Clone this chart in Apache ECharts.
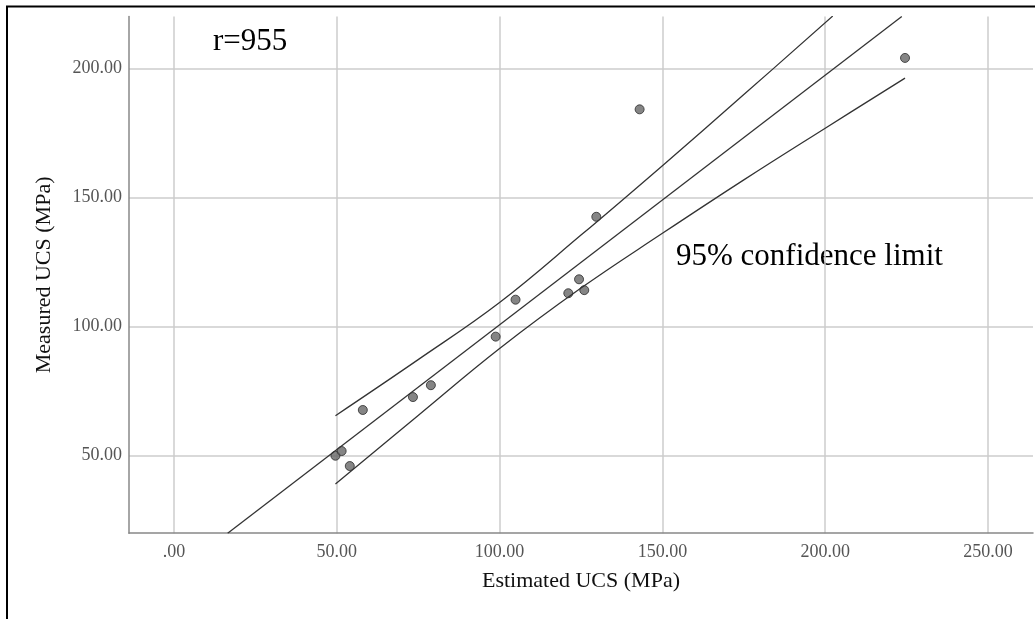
<!DOCTYPE html>
<html>
<head>
<meta charset="utf-8">
<style>
  html, body { margin: 0; padding: 0; background: #fff; }
  #chart { width: 1035px; height: 619px; }
</style>
<script src="https://cdn.jsdelivr.net/npm/echarts@6/dist/echarts.min.js"></script>
</head>
<body>
<div id="chart"></div>
<script>
// measured points: [estimated UCS, measured UCS]
const estimated = [49.6, 51.5, 54.0, 58.0, 73.4, 78.9, 98.8, 104.9, 121.1, 124.4, 126.0, 129.7, 143.0, 224.5];
const measured  = [50.0, 51.8, 46.0, 67.7, 72.7, 77.3, 96.1, 110.4, 112.9, 118.3, 114.1, 142.5, 184.1, 204.0];

// fit line (clipped by the plot frame)
const fitX = [16.5, 223.5];
const fitY = [20.0, 220.0];

// 95% confidence limit curves
const upperX = [49.6, 75, 100, 125, 150, 175, 202.3];
const upperY = [65.5, 87.2, 109.3, 135.4, 162.3, 189.8, 220.2];
const lowerX = [49.6, 75, 100, 125, 150, 175, 200, 224.5];
const lowerY = [39.0, 65.6, 91.5, 114.9, 136.1, 156.8, 176.8, 196.2];

const xTicks = [0, 50, 100, 150, 200, 250];
const yTicks = [50, 100, 150, 200];

const zip = (a, b) => a.map((v, i) => [v, b[i]]);
const fmt = v => (v === 0 ? '.00' : v.toFixed(2));
const serif = '"Liberation Serif", "Times New Roman", serif';

let chart = echarts.init(document.getElementById('chart'));

chart.setOption({
    animation: false,
    grid: { left: 129, right: 2, top: 16.6, bottom: 85.8 },
    xAxis: {
        type: 'value',
        min: -13.8,
        max: 263.8,
        minInterval: 50,
        maxInterval: 50,
        name: 'Estimated UCS (MPa)',
        nameLocation: 'middle',
        nameGap: 37,
        nameTextStyle: { fontFamily: serif, fontSize: 22, color: '#111' },
        axisLine: { onZero: false, lineStyle: { color: '#888', width: 1.5 } },
        axisTick: { show: false },
        axisLabel: {
            margin: 10,
            showMinLabel: false,
            showMaxLabel: false,
            fontFamily: serif, fontSize: 18, color: '#555',
            formatter: v => (xTicks.includes(v) ? fmt(v) : '')
        },
        splitLine: { show: true, showMinLine: false, showMaxLine: false, lineStyle: { color: '#cccccc', width: 1.5 } }
    },
    yAxis: {
        type: 'value',
        min: 20,
        max: 220,
        minInterval: 50,
        maxInterval: 50,
        name: 'Measured UCS (MPa)',
        nameLocation: 'middle',
        nameGap: 74,
        nameTextStyle: { fontFamily: serif, fontSize: 22, color: '#111' },
        axisLine: { show: true, onZero: false, lineStyle: { color: '#888', width: 1.5 } },
        axisTick: { show: false },
        axisLabel: {
            margin: 7,
            showMinLabel: false,
            showMaxLabel: false,
            fontFamily: serif, fontSize: 18, color: '#555',
            formatter: v => (yTicks.includes(v) ? fmt(v) : '')
        },
        splitLine: { show: true, showMinLine: false, showMaxLine: false, lineStyle: { color: '#cccccc', width: 1.5 } }
    },
    series: [
        {
            type: 'line', data: zip(fitX, fitY), symbol: 'none', clip: true,
            lineStyle: { color: '#333', width: 1.3 }
        },
        {
            type: 'line', data: zip(upperX, upperY), symbol: 'none', smooth: 0.4, clip: true,
            lineStyle: { color: '#333', width: 1.3 }
        },
        {
            type: 'line', data: zip(lowerX, lowerY), symbol: 'none', smooth: 0.4, clip: true,
            lineStyle: { color: '#333', width: 1.3 }
        },
        {
            type: 'scatter', data: zip(estimated, measured), symbolSize: 9,
            itemStyle: { color: '#666', borderColor: '#2a2a2a', borderWidth: 1 }
        }
    ],
    graphic: [
        { type: 'line', shape: { x1: 6, y1: 6.5, x2: 1035, y2: 6.5 }, style: { stroke: '#000', lineWidth: 2 } },
        { type: 'line', shape: { x1: 7, y1: 6, x2: 7, y2: 619 }, style: { stroke: '#000', lineWidth: 2 } },
        {
            type: 'text', left: 213, top: 26,
            style: { text: 'r=955', font: '31px ' + serif, fill: '#000' }
        },
        {
            type: 'text', left: 676, top: 241,
            style: { text: '95% confidence limit', font: '31px ' + serif, fill: '#000' }
        }
    ]
});
</script>
</body>
</html>
